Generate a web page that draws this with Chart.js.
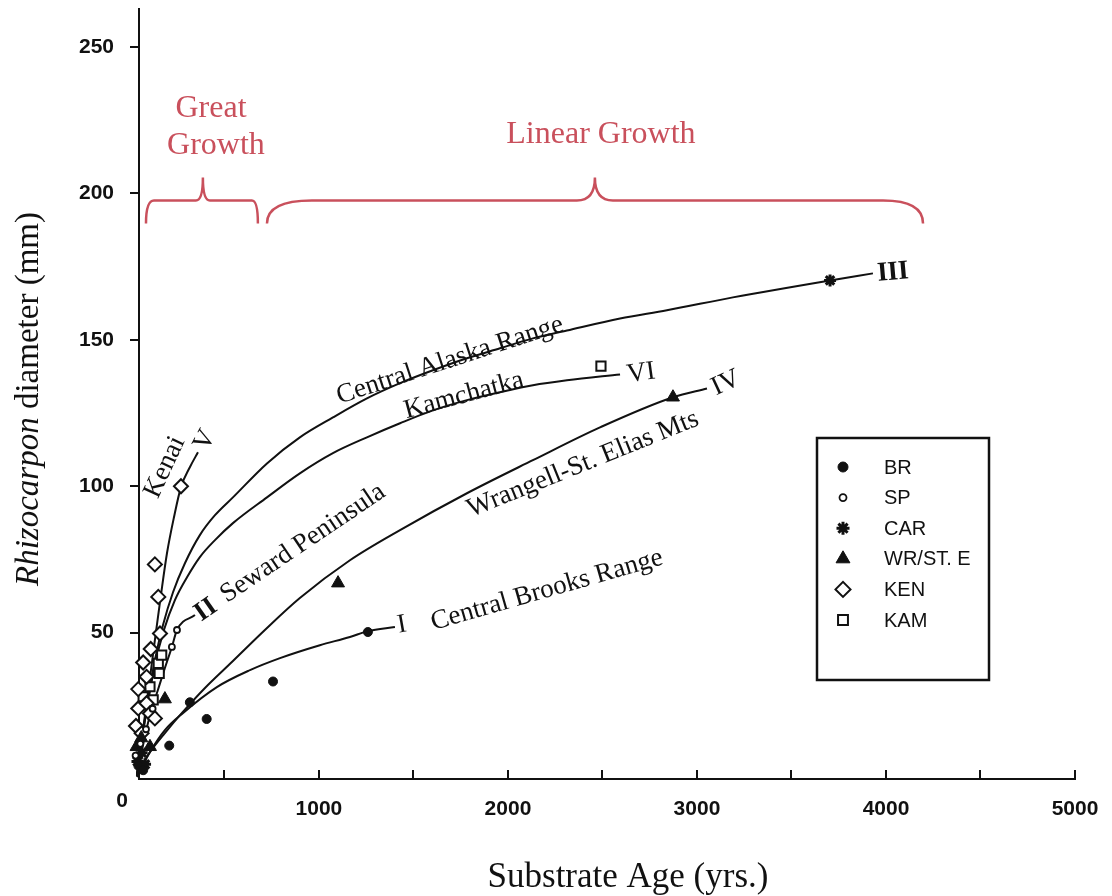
<!DOCTYPE html>
<html>
<head>
<meta charset="utf-8">
<script src="https://cdn.jsdelivr.net/npm/chart.js@4/dist/chart.umd.min.js"></script>
<style>
  html, body { margin: 0; padding: 0; background: #fff; }
  #wrap { width: 1112px; height: 896px; }
</style>
</head>
<body>
<div id="wrap"><canvas id="chart" width="1112" height="896"></canvas></div>
<script>
// Lichen (Rhizocarpon) growth curves: substrate age (yrs) vs. thallus diameter (mm)

// --- control points, by region ---
const brAge   = [25, 45, 70, 208, 317, 406, 757, 1259];
const brDiam  = [2, 4.5, 3, 11.4, 26.2, 20.5, 33.3, 50.2];
const spAge   = [30, 55, 85, 120, 222, 249];
const spDiam  = [8, 12, 17, 24, 45.1, 50.9];
const carAge  = [20, 40, 62, 80, 3704];
const carDiam = [3, 6, 9, 5, 170.3];
const wrAge   = [35, 60, 106, 185, 1101, 2873];
const wrDiam  = [11, 14, 11, 27.3, 66.9, 130.4];
const kenAge  = [32, 44, 44, 62, 70, 88, 88, 106, 110, 132, 159, 150, 132, 270];
const kenDiam = [18.1, 24.1, 30.7, 15.6, 39.8, 25.9, 34.9, 22.4, 44.4, 20.7, 49.7, 62.2, 73.3, 100];
const kamAge  = [70, 106, 123, 150, 155, 168, 2492];
const kamDiam = [28.1, 31.5, 27, 39.5, 36.1, 42.3, 141];

// --- growth curves ---
const curveKenaiAge   = [37, 69, 101, 132, 164, 196, 233, 270, 317, 360];
const curveKenaiDiam  = [1.0, 16.7, 32.1, 47.4, 62.8, 77.1, 89.4, 99.7, 106.5, 111.6];
const curveCarAge     = [37, 63, 95, 132, 175, 228, 291, 370, 450, 545, 725, 899, 1074, 1254, 1429, 1603, 1783, 1958, 2132, 2312, 2593, 2841, 3190, 3704, 3931];
const curveCarDiam    = [1.4, 13.3, 27, 40.6, 52.6, 63.8, 73.7, 83.3, 90.1, 96.2, 107.8, 116.7, 123.5, 130, 135.2, 139.6, 143.7, 147.1, 150.5, 153.2, 157.3, 160.1, 164.5, 170.3, 172.7];
const curveKamAge     = [37, 63, 95, 132, 180, 238, 302, 370, 450, 545, 725, 899, 1074, 1254, 1429, 1603, 1783, 1958, 2132, 2312, 2593];
const curveKamDiam    = [1.4, 13.3, 25.9, 38.9, 50.9, 61.1, 68.9, 75.8, 81.6, 87.4, 96.2, 104.4, 111.3, 116.7, 121.5, 125.9, 129.4, 132.1, 134.5, 136.2, 138.2];
const curveSpAge      = [37, 69, 106, 148, 185, 222, 249, 344];
const curveSpDiam     = [1.0, 11.6, 21.8, 30.4, 37.9, 45.1, 50.9, 56];
const curveWrAge      = [37, 106, 185, 280, 397, 545, 714, 899, 1164, 1429, 1783, 2132, 2487, 2873, 3053];
const curveWrDiam     = [2, 9.2, 15.7, 22.9, 31.1, 40.3, 50.9, 61.8, 74.7, 85, 97.6, 108.9, 120.1, 130.4, 133.4];
const curveBrAge      = [37, 106, 185, 280, 460, 635, 794, 1005, 1164, 1259, 1402];
const curveBrDiam     = [0.7, 9.2, 16.7, 22.5, 31.4, 37.2, 41.3, 45.7, 48.5, 50.5, 51.9];

// --- axis ticks ---
const xTickValues = [500, 1000, 1500, 2000, 2500, 3000, 3500, 4000, 4500, 5000];
const yTickValues = [50, 100, 150, 200, 250];

const zip = (xs, ys) => xs.map((v, i) => ({ x: v, y: ys[i] }));

const SERIF = '"Liberation Serif", "Times New Roman", serif';
const SANS = '"Liberation Sans", Arial, sans-serif';
const INK = '#111';
const RED = '#c9505c';

function markerSet(label, xs, ys, style) {
  return Object.assign({
    label, data: zip(xs, ys), showLine: false, clip: false, order: 0,
    borderColor: INK, backgroundColor: INK
  }, style);
}
function curveSet(label, xs, ys) {
  return {
    label, data: zip(xs, ys), showLine: true, clip: false, order: 1,
    pointRadius: 0, borderColor: INK, borderWidth: 2,
    cubicInterpolationMode: 'monotone', fill: false
  };
}

const markerSets = [
  markerSet('BR', brAge, brDiam, { pointStyle: 'circle', pointRadius: 4.5, pointBorderWidth: 1 }),
  markerSet('SP', spAge, spDiam, { pointStyle: 'circle', pointRadius: 3, pointBorderWidth: 1.8, backgroundColor: '#fff' }),
  markerSet('CAR', carAge, carDiam, { pointStyle: 'star', pointRadius: 6, pointBorderWidth: 3 }),
  markerSet('WR/ST. E', wrAge, wrDiam, { pointStyle: 'triangle', pointRadius: 7.5, pointBorderWidth: 1 }),
  markerSet('KEN', kenAge, kenDiam, { pointStyle: 'rectRot', pointRadius: 7, pointBorderWidth: 2, backgroundColor: '#fff' }),
  markerSet('KAM', kamAge, kamDiam, { pointStyle: 'rect', pointRadius: 6.5, pointBorderWidth: 2, backgroundColor: '#fff' })
];
const curveSets = [
  curveSet('Kenai', curveKenaiAge, curveKenaiDiam),
  curveSet('Central Alaska Range', curveCarAge, curveCarDiam),
  curveSet('Kamchatka', curveKamAge, curveKamDiam),
  curveSet('Seward Peninsula', curveSpAge, curveSpDiam),
  curveSet('Wrangell-St. Elias Mts', curveWrAge, curveWrDiam),
  curveSet('Central Brooks Range', curveBrAge, curveBrDiam)
];

// curve names and roman numerals, placed in data space: [text, age, diam, angleDeg, bold]
const curveLabels = [
  ['Kenai', 185, 106.5, -65, false],
  ['V', 397, 115.7, -62, false],
  ['Central Alaska Range', 1693, 143, -18, false],
  ['Kamchatka', 1767, 131, -15, false],
  ['VI', 2704, 138.6, -8, false],
  ['Wrangell-St. Elias Mts', 2397, 107.5, -22, false],
  ['IV', 3153, 135.2, -25, false],
  ['III', 4037, 173, -5, true],
  ['II', 402, 57.7, -35, true],
  ['Seward Peninsula', 915, 80.5, -34, false],
  ['Central Brooks Range', 2206, 64.5, -16, false],
  ['I', 1439, 52.6, -10, false]
];

// growth-phase brackets: [fromAge, toAge, peakAge]
const phaseBraces = [[85, 677, 386], [725, 4196, 2460]];
const phaseText = [['Great', 429, 229], ['Growth', 455, 216.4], ['Linear Growth', 2492, 220]];

function drawBrace(ctx, xL, xR, xM, yFlat, yEnd, yTip, rcL, rcR, pw) {
  ctx.beginPath();
  ctx.moveTo(xL, yEnd);
  ctx.quadraticCurveTo(xL, yFlat, xL + rcL, yFlat);
  ctx.lineTo(xM - pw, yFlat);
  ctx.quadraticCurveTo(xM, yFlat, xM, yTip);
  ctx.quadraticCurveTo(xM, yFlat, xM + pw, yFlat);
  ctx.lineTo(xR - rcR, yFlat);
  ctx.quadraticCurveTo(xR, yFlat, xR, yEnd);
  ctx.stroke();
}

const annotate = {
  id: 'annotate',
  afterDatasetsDraw(chart) {
    const { ctx, scales: { x, y } } = chart;
    ctx.save();

    // curve names
    ctx.fillStyle = INK;
    ctx.textAlign = 'center';
    ctx.textBaseline = 'middle';
    curveLabels.forEach(([t, ax, dy, ang, bold]) => {
      ctx.save();
      ctx.translate(x.getPixelForValue(ax), y.getPixelForValue(dy));
      ctx.rotate(ang * Math.PI / 180);
      ctx.font = (bold ? 'bold ' : '') + '27px ' + SERIF;
      ctx.fillText(t, 0, 0);
      ctx.restore();
    });

    // growth phases
    ctx.strokeStyle = RED;
    ctx.fillStyle = RED;
    ctx.lineWidth = 2.5;
    ctx.font = '32px ' + SERIF;
    phaseText.forEach(([t, ax, dy]) => {
      ctx.fillText(t, x.getPixelForValue(ax), y.getPixelForValue(dy));
    });
    const yFlat = y.getPixelForValue(197.6);
    phaseBraces.forEach(([a0, a1, am], i) => {
      const wide = i === 1;
      drawBrace(ctx, x.getPixelForValue(a0), x.getPixelForValue(a1), x.getPixelForValue(am),
        yFlat, yFlat + 23, yFlat - 23, wide ? 45 : 8, wide ? 40 : 6, wide ? 18 : 7);
    });

    // axis titles
    ctx.fillStyle = INK;
    ctx.font = '35px ' + SERIF;
    ctx.textAlign = 'center';
    ctx.fillText('Substrate Age (yrs.)', 628, 878);

    const italic = 'italic 33px ' + SERIF;
    const upright = '33px ' + SERIF;
    ctx.font = italic;
    const w1 = ctx.measureText('Rhizocarpon').width;
    ctx.font = upright;
    const w2 = ctx.measureText(' diameter (mm)').width;
    ctx.save();
    ctx.translate(29, 399);
    ctx.rotate(-Math.PI / 2);
    ctx.textAlign = 'left';
    ctx.font = italic;
    ctx.fillText('Rhizocarpon', -(w1 + w2) / 2, 0);
    ctx.font = upright;
    ctx.fillText(' diameter (mm)', -(w1 + w2) / 2 + w1, 0);
    ctx.restore();

    // shared origin label
    ctx.font = 'bold 21px ' + SANS;
    ctx.textAlign = 'center';
    ctx.fillText('0', 122, 801);

    // legend box
    const box = { l: 817, t: 438, r: 989, b: 680 };
    ctx.lineWidth = 2.5;
    ctx.strokeStyle = INK;
    ctx.strokeRect(box.l, box.t, box.r - box.l, box.b - box.t);
    ctx.font = '20px ' + SANS;
    ctx.textAlign = 'left';
    const drawPoint = Chart.helpers && Chart.helpers.drawPoint;
    chart.data.datasets.filter(d => !d.showLine).forEach((d, i) => {
      const cy = 467 + i * 30.6;
      ctx.save();
      ctx.fillStyle = d.backgroundColor;
      ctx.strokeStyle = d.borderColor;
      ctx.lineWidth = d.pointBorderWidth;
      if (drawPoint) {
        drawPoint(ctx, { pointStyle: d.pointStyle, radius: d.pointRadius + 0.5, rotation: 0, borderWidth: d.pointBorderWidth }, 843, cy);
      }
      ctx.restore();
      ctx.fillStyle = INK;
      ctx.fillText(d.label, 884, cy + 1);
    });

    ctx.restore();
  }
};

new Chart(document.getElementById('chart'), {
  type: 'scatter',
  data: { datasets: markerSets.concat(curveSets) },
  options: {
    responsive: false,
    animation: false,
    devicePixelRatio: 1,
    layout: { padding: { left: 0, right: 37, top: 8, bottom: 0 } },
    plugins: { legend: { display: false }, tooltip: { enabled: false } },
    scales: {
      x: {
        type: 'linear', min: 48, max: 5000,
        afterBuildTicks: s => { s.ticks = xTickValues.map(v => ({ value: v })); },
        afterFit: s => { s.height = 117; s.paddingLeft = 0; s.paddingRight = 0; },
        grid: { drawOnChartArea: false, drawTicks: true, tickLength: -9, color: INK, lineWidth: 2 },
        border: { display: true, color: INK, width: 2 },
        ticks: {
          autoSkip: false, maxRotation: 0, padding: 27, color: INK,
          font: { family: SANS, size: 21, weight: 'bold' },
          callback: v => (v % 1000 === 0 ? String(v) : '')
        }
      },
      y: {
        type: 'linear', min: 0, max: 263,
        afterBuildTicks: s => { s.ticks = yTickValues.map(v => ({ value: v })); },
        afterFit: s => { s.width = 139; s.paddingTop = 0; s.paddingBottom = 0; },
        grid: { drawOnChartArea: false, drawTicks: true, tickLength: 9, color: INK, lineWidth: 2 },
        border: { display: true, color: INK, width: 2 },
        ticks: {
          padding: 16, color: INK,
          font: { family: SANS, size: 21, weight: 'bold' }
        }
      }
    }
  },
  plugins: [annotate]
});
</script>
</body>
</html>
